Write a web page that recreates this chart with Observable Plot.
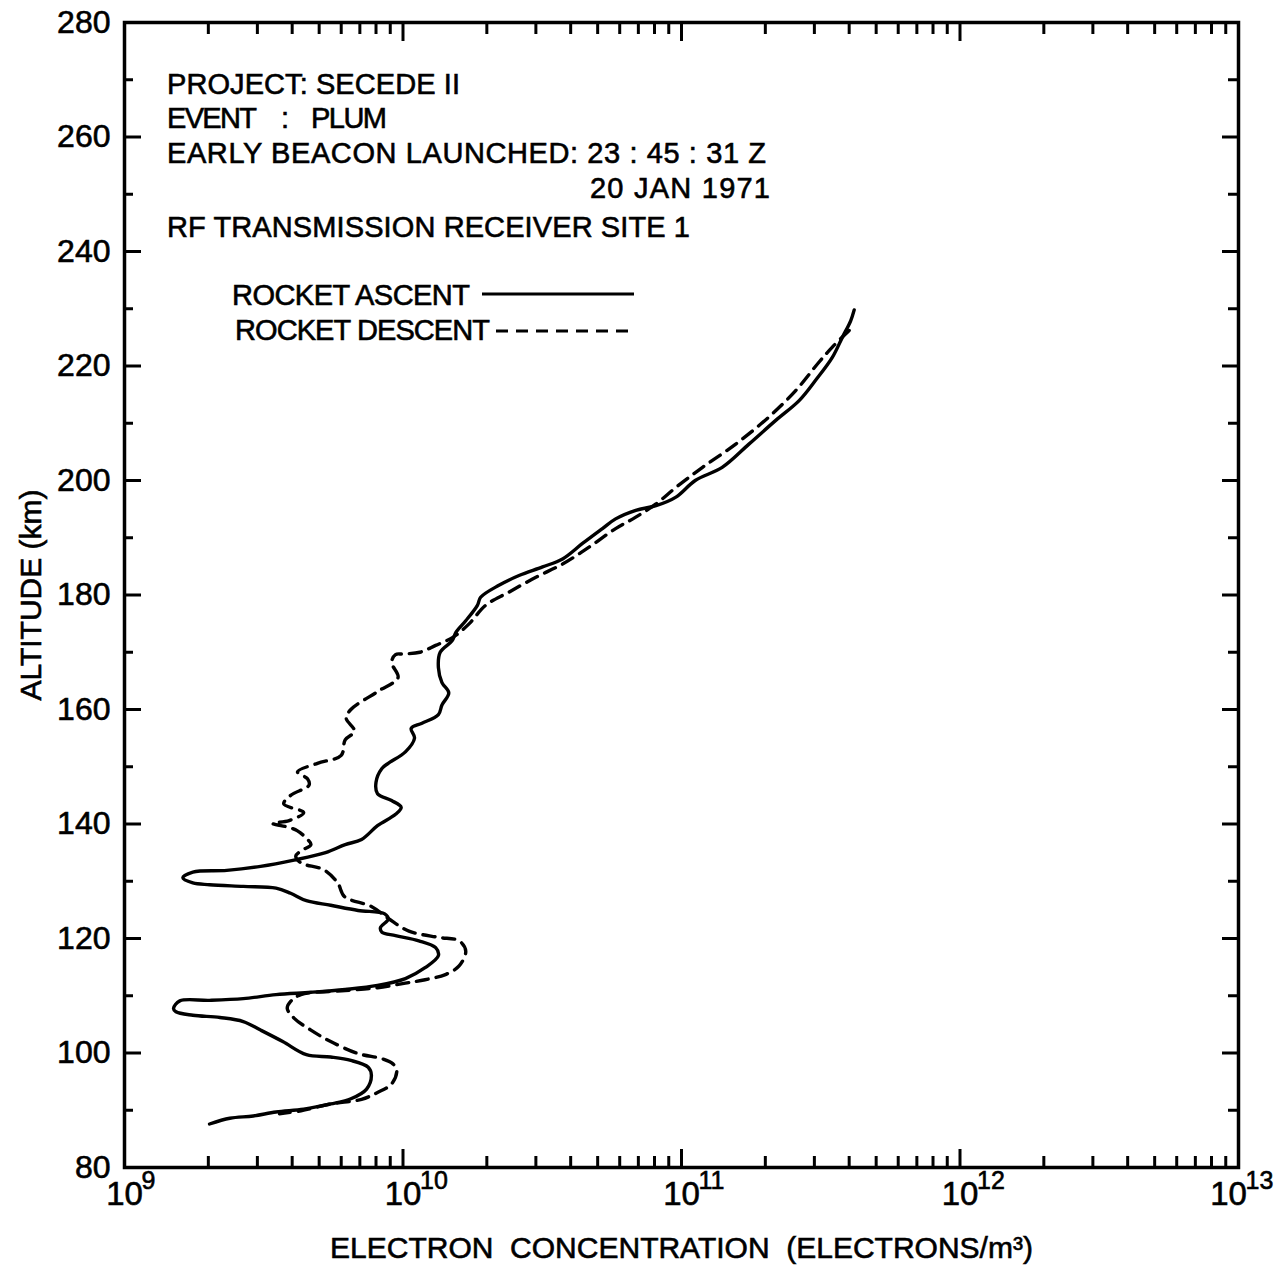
<!DOCTYPE html>
<html><head><meta charset="utf-8">
<script src="https://cdn.jsdelivr.net/npm/d3@7"></script>
<script src="https://cdn.jsdelivr.net/npm/@observablehq/plot@0.6"></script>
<style>
body{margin:0;background:#fff;}
#wrap{width:1278px;height:1287px;}
</style></head><body><div id="wrap"></div>
<script>
// ---- Data ----
const ascentAltitude = [87.6,88.6,89.0,89.7,90.2,91.1,92.0,93.7,96.1,97.5,
  98.7,99.3,99.7,102.0,104.0,105.5,106.2,106.6,107.2,107.8,
  109.1,109.2,109.5,110.2,110.6,111.1,111.8,113.0,114.9,117.0,
  118.4,119.6,120.5,121.1,121.9,123.4,124.3,124.9,125.8,126.6,
  127.9,128.8,129.1,129.4,129.7,130.6,131.6,131.9,132.6,133.7,
  135.0,136.4,137.3,139.7,141.7,142.9,144.1,145.3,147.3,149.7,
  150.6,152.6,155.0,156.7,157.6,159.1,160.8,162.9,164.7,167.3,
  170.0,172.0,173.5,175.5,178.2,179.6,181.7,183.4,184.9,186.3,
  189.0,191.6,193.3,194.8,195.6,197.1,200.0,202.3,206.4,210.5,
  214.0,217.5,221.5,225.0,227.9,229.8];
const ascentDensity = [2.02e9,2.39e9,2.9e9,3.5e9,4.4e9,5.5e9,6.5e9,7.4e9,7.7e9,7.5e9,
  6.5e9,5.5e9,4.5e9,3.7e9,3.08e9,2.67e9,2.2e9,1.76e9,1.53e9,1.5e9,
  1.58e9,2.02e9,2.67e9,3.5e9,4.67e9,6.2e9,8.1e9,1.02e10,1.2e10,1.34e10,
  1.31e10,1.14e10,9.4e9,8.4e9,8.3e9,8.85e9,8.6e9,6.9e9,5.5e9,4.5e9,
  3.95e9,3.5e9,2.67e9,2.02e9,1.76e9,1.62e9,1.76e9,2.33e9,3.08e9,4.06e9,
  5.27e9,6.2e9,7.1e9,8.1e9,9.4e9,9.85e9,9.1e9,8.1e9,8.0e9,8.4e9,
  8.85e9,1.02e10,1.1e10,1.07e10,1.17e10,1.34e10,1.38e10,1.46e10,1.38e10,1.34e10,
  1.36e10,1.5e10,1.55e10,1.68e10,1.85e10,1.9e10,2.21e10,2.61e10,3.17e10,3.74e10,
  4.41e10,5.2e10,5.8e10,6.85e10,8.1e10,9.55e10,1.12e11,1.4e11,1.75e11,2.18e11,
  2.65e11,3.03e11,3.48e11,3.78e11,4.05e11,4.17e11];

const descentAltitude = [226.2,223.3,220.7,215.7,211.1,206.4,202.3,198.8,195.9,193.6,
  191.6,188.4,185.4,183.1,180.5,178.2,175.0,172.6,171.2,170.0,
  169.7,169.6,168.2,165.6,163.2,160.0,158.5,156.2,154.7,152.0,
  150.6,149.1,147.9,146.8,145.0,143.5,142.0,140.6,140.1,139.4,
  138.8,137.5,136.4,135.3,134.4,133.2,132.0,129.7,127.3,125.6,
  123.5,121.3,120.2,119.6,117.8,115.2,113.7,112.8,112.2,111.4,
  110.9,110.2,109.0,107.8,106.1,104.0,102.0,99.9,99.0,98.1,
  97.0,94.6,93.1,91.9,91.1,89.9,89.4];
const descentDensity = [4.0e11,3.48e11,3.12e11,2.57e11,2.06e11,1.57e11,1.19e11,9.55e10,8.1e10,6.85e10,
  5.8e10,4.67e10,3.74e10,3.0e10,2.4e10,1.98e10,1.73e10,1.51e10,1.31e10,1.15e10,
  1.0e10,9.4e9,9.1e9,9.6e9,8.15e9,6.5e9,6.25e9,6.7e9,6.2e9,6.0e9,
  4.93e9,4.18e9,4.54e9,4.6e9,3.95e9,3.73e9,4.4e9,3.9e9,3.4e9,3.9e9,
  4.18e9,4.5e9,4.67e9,4.3e9,4.12e9,4.3e9,5.2e9,5.83e9,6.17e9,7.7e9,
  8.85e9,1.05e10,1.34e10,1.59e10,1.68e10,1.59e10,1.42e10,1.2e10,1.02e10,8.1e9,
  6.2e9,4.3e9,3.95e9,3.84e9,4.06e9,4.67e9,5.5e9,6.9e9,8.4e9,9.2e9,
  9.5e9,9.1e9,8.1e9,7.1e9,5.5e9,4.3e9,3.6e9];

// ---- Ticks ----
const decadeTicks = [1e9, 1e10, 1e11, 1e12, 1e13];
const decadeExponents = ["9", "10", "11", "12", "13"];
const minorMultipliers = [2, 3, 4, 5, 6, 7, 8, 9];
const minorTicks = decadeTicks.slice(0, 4).flatMap(d => minorMultipliers.map(m => m * d));
const altitudeLabelTicks = [80, 100, 120, 140, 160, 180, 200, 220, 240, 260, 280];
const altitudeMinorTicks = [90, 110, 130, 150, 170, 190, 210, 230, 250, 270];

// ---- Text ----
const xLabel = "ELECTRON  CONCENTRATION  (ELECTRONS/m³)";
const yLabel = "ALTITUDE (km)";
const seriesNames = ["ROCKET ASCENT", "ROCKET DESCENT"];

const ascent = ascentAltitude.map((a, i) => ({alt: a, ne: ascentDensity[i]}));
const descent = descentAltitude.map((a, i) => ({alt: a, ne: descentDensity[i]}));
const decadeLabels = decadeTicks.map((v, i) => ({v, exp: decadeExponents[i], last: i === decadeTicks.length - 1}));

const noText = () => "";
const FONT = "Liberation Sans, Arial, sans-serif";

const chart = Plot.plot({
  width: 1278,
  height: 1287,
  marginLeft: 124,
  marginRight: 40,
  marginTop: 22,
  marginBottom: 120,
  style: {fontFamily: FONT, fontSize: "30px", background: "#fff", color: "#000"},
  x: {type: "log", domain: [1e9, 1e13]},
  y: {domain: [80, 280]},
  marks: [
    // inward ticks
    Plot.axisX(decadeTicks, {anchor: "bottom", tickSize: -18, strokeWidth: 3, tickFormat: noText, label: null}),
    Plot.axisX(minorTicks, {anchor: "bottom", tickSize: -11, strokeWidth: 3, tickFormat: noText, label: null}),
    Plot.axisX(decadeTicks, {anchor: "top", tickSize: -18, strokeWidth: 3, tickFormat: noText, label: null}),
    Plot.axisX(minorTicks, {anchor: "top", tickSize: -11, strokeWidth: 3, tickFormat: noText, label: null}),
    Plot.axisY(altitudeLabelTicks, {anchor: "left", tickSize: -17, strokeWidth: 3, tickFormat: noText, label: null}),
    Plot.axisY(altitudeMinorTicks, {anchor: "left", tickSize: -9, strokeWidth: 3, tickFormat: noText, label: null}),
    Plot.axisY(altitudeLabelTicks, {anchor: "right", tickSize: -17, strokeWidth: 3, tickFormat: noText, label: null}),
    Plot.axisY(altitudeMinorTicks, {anchor: "right", tickSize: -11, strokeWidth: 3, tickFormat: noText, label: null}),
    // y tick labels
    Plot.text(altitudeLabelTicks, {y: d => d, frameAnchor: "left", text: d => String(d), dx: -14, textAnchor: "end", fontSize: 32}),
    // x tick labels: 10^n
    Plot.text(decadeLabels.filter(d => !d.last), {x: "v", frameAnchor: "bottom", text: () => "10", dy: 37, fontSize: 33, textAnchor: "middle"}),
    Plot.text(decadeLabels.filter(d => !d.last), {x: "v", frameAnchor: "bottom", text: "exp", dy: 21, dx: 17, fontSize: 25, textAnchor: "start"}),
    Plot.text(decadeLabels.filter(d => d.last), {x: "v", frameAnchor: "bottom", text: () => "10", dy: 37, dx: -10, fontSize: 33, textAnchor: "middle"}),
    Plot.text(decadeLabels.filter(d => d.last), {x: "v", frameAnchor: "bottom", text: "exp", dy: 21, dx: 7, fontSize: 25, textAnchor: "start"}),
    // axis titles
    Plot.text([yLabel], {frameAnchor: "left", text: d => d, rotate: -90, dx: -93, fontSize: 30, textAnchor: "middle"}),
    Plot.text([xLabel], {frameAnchor: "bottom", text: d => d, dy: 90, fontSize: 30, textAnchor: "middle"}),
    // data
    Plot.line(ascent, {x: "ne", y: "alt", stroke: "#000", strokeWidth: 3.4, curve: "catmull-rom", strokeLinejoin: "round", strokeLinecap: "round"}),
    Plot.line(descent, {x: "ne", y: "alt", stroke: "#000", strokeWidth: 3.4, curve: "catmull-rom", strokeDasharray: "12,8", strokeLinejoin: "round"}),
    Plot.frame({stroke: "#000", strokeWidth: 3.5})
  ]
});
document.getElementById("wrap").appendChild(chart);

const svg = d3.select(chart);
// slightly heavier lettering, like the original typewritten labels
svg.selectAll("g[aria-label='text'] text").attr("stroke", "#000").attr("stroke-width", 0.6);

// ---- annotations and legend ----
const g = svg.append("g").attr("font-family", FONT).attr("font-size", 29).attr("fill", "#000")
  .attr("stroke", "#000").attr("stroke-width", 0.6);
function txt(x, y, s, len, anchor) {
  const t = g.append("text").attr("x", x).attr("y", y).attr("text-anchor", anchor || "start")
    .attr("xml:space", "preserve").text(s);
  if (len) t.attr("textLength", len).attr("lengthAdjust", "spacing");
  return t;
}
txt(167, 93.5, "PROJECT: SECEDE II", 293);
txt(167, 128, "EVENT", 90);
txt(281, 128, ":", null);
txt(311, 128, "PLUM", 76);
txt(167, 163, "EARLY BEACON LAUNCHED: 23 : 45 : 31 Z", 599);
txt(770, 197.5, "20 JAN 1971", 180, "end");
txt(167, 236.5, "RF TRANSMISSION RECEIVER SITE 1", 523);
// legend
txt(232, 305, seriesNames[0], 238);
txt(235, 340, seriesNames[1], 255);
svg.append("line").attr("x1", 482).attr("x2", 634).attr("y1", 294).attr("y2", 294)
  .attr("stroke", "#000").attr("stroke-width", 3.2);
svg.append("line").attr("x1", 496).attr("x2", 636).attr("y1", 331).attr("y2", 331)
  .attr("stroke", "#000").attr("stroke-width", 3.2).attr("stroke-dasharray", "12,8");
</script>
</body></html>
